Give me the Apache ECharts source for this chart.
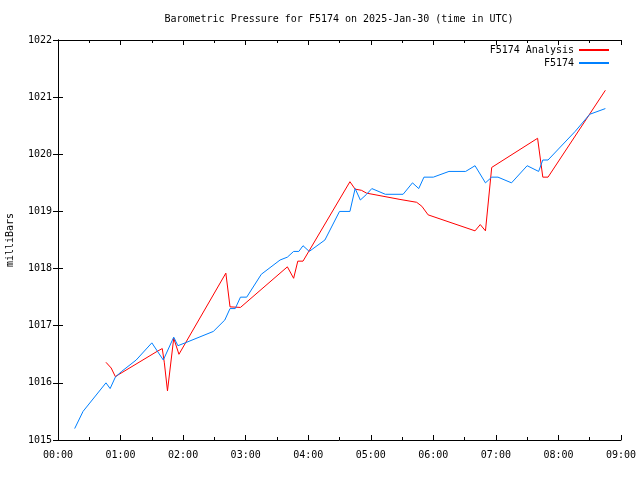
<!DOCTYPE html>
<html>
<head>
<meta charset="utf-8">
<script src="https://cdn.jsdelivr.net/npm/echarts@6/dist/echarts.min.js"></script>
<style>html,body{margin:0;padding:0;background:#fff;}#chart{width:640px;height:480px;}</style>
</head>
<body>
<div id="chart"></div>
<script>
const titleText = 'Barometric Pressure for F5174 on 2025-Jan-30 (time in UTC)';
const yAxisName = 'milliBars';
const seriesNames = ['F5174 Analysis', 'F5174'];
const xTickLabels = ['00:00','01:00','02:00','03:00','04:00','05:00','06:00','07:00','08:00','09:00'];

const analysisTimes = ['00:46','00:51','00:55','01:35','01:40','01:42','01:45','01:51','01:56','02:41','02:45','02:55','03:40','03:46','03:50','03:55','04:40','04:45','04:51','04:56','05:28','05:44','05:49','05:55','06:40','06:45','06:50','06:56','07:40','07:45','07:50','08:45'];
const analysisValues = [1016.36,1016.26,1016.11,1016.55,1016.60,1016.35,1015.86,1016.78,1016.50,1017.92,1017.33,1017.32,1018.03,1017.83,1018.13,1018.13,1019.52,1019.39,1019.37,1019.32,1019.21,1019.16,1019.09,1018.94,1018.66,1018.77,1018.66,1019.77,1020.28,1019.60,1019.60,1021.12];

const obsTimes = ['00:16','00:24','00:46','00:50','00:55','01:01','01:15','01:30','01:41','01:51','01:55','02:02','02:29','02:40','02:45','02:50','02:55','03:01','03:15','03:33','03:40','03:46','03:51','03:55','04:01','04:16','04:30','04:40','04:45','04:50','04:56','05:01','05:14','05:31','05:40','05:46','05:51','06:00','06:15','06:31','06:40','06:50','06:56','07:02','07:15','07:30','07:41','07:45','07:50','08:16','08:30','08:45'];
const obsValues = [1015.2,1015.5,1016.0,1015.9,1016.1,1016.2,1016.4,1016.7,1016.4,1016.8,1016.65,1016.7,1016.9,1017.1,1017.3,1017.3,1017.5,1017.5,1017.9,1018.15,1018.2,1018.3,1018.3,1018.4,1018.3,1018.5,1019.0,1019.0,1019.4,1019.2,1019.3,1019.4,1019.3,1019.3,1019.5,1019.4,1019.6,1019.6,1019.7,1019.7,1019.8,1019.5,1019.6,1019.6,1019.5,1019.8,1019.7,1019.9,1019.9,1020.4,1020.7,1020.8];

function toHours(s) { const p = s.split(':'); return Number(p[0]) + Number(p[1]) / 60; }
function pairs(ts, vs) { return ts.map((t, i) => [toHours(t), vs[i]]); }

const FONT = 'DejaVu Sans Mono';
const tickStyle = { show: true, inside: true, length: 5, lineStyle: { color: '#000', width: 1 } };
const minorStyle = { show: true, splitNumber: 2, length: 3, lineStyle: { color: '#000', width: 1 } };
const lineStyleAxis = { show: true, lineStyle: { color: '#000', width: 1 } };

const chart = echarts.init(document.getElementById('chart'), null, { renderer: 'canvas' });
chart.setOption({
  animation: false,
  backgroundColor: '#fff',
  textStyle: { fontFamily: FONT },
  graphic: [{
    type: 'text', x: 339, y: 19,
    style: { text: titleText, fontFamily: FONT, fontSize: 10, fill: '#000', align: 'center', verticalAlign: 'middle' }
  }],
  legend: {
    orient: 'vertical', align: 'right', right: 30, top: 45, padding: 0,
    itemWidth: 30, itemHeight: 12, itemGap: 3,
    itemStyle: { opacity: 0 },
    textStyle: { fontFamily: FONT, fontSize: 10, color: '#000' },
    data: seriesNames
  },
  grid: { left: 58, right: 19, top: 40, bottom: 40, containLabel: false, outerBoundsMode: 'none' },
  xAxis: [{
    type: 'value', min: 0, max: 9, interval: 1, position: 'bottom',
    axisLine: lineStyleAxis, axisTick: tickStyle, minorTick: minorStyle,
    splitLine: { show: false },
    axisLabel: { margin: 10, fontFamily: FONT, fontSize: 10, color: '#000', formatter: v => xTickLabels[Math.round(v)] }
  }, {
    type: 'value', min: 0, max: 9, interval: 1, position: 'top',
    axisLine: lineStyleAxis, axisTick: tickStyle, minorTick: minorStyle,
    splitLine: { show: false }, axisLabel: { show: false }
  }],
  yAxis: [{
    type: 'value', min: 1015, max: 1022, interval: 1, position: 'left',
    name: yAxisName, nameLocation: 'middle', nameGap: 43, nameRotate: 90,
    nameTextStyle: { fontFamily: FONT, fontSize: 10, color: '#000' },
    axisLine: lineStyleAxis, axisTick: tickStyle, splitLine: { show: false },
    axisLabel: { margin: 6, fontFamily: FONT, fontSize: 10, color: '#000', formatter: v => String(v) }
  }, {
    type: 'value', min: 1015, max: 1022, interval: 1, position: 'right',
    axisLine: lineStyleAxis, axisTick: tickStyle, splitLine: { show: false },
    axisLabel: { show: false }
  }],
  series: [{
    name: seriesNames[0], type: 'line', symbol: 'none', smooth: false,
    xAxisIndex: 0, yAxisIndex: 0,
    lineStyle: { color: '#ff0000', width: 1 }, itemStyle: { color: '#ff0000' },
    data: pairs(analysisTimes, analysisValues)
  }, {
    name: seriesNames[1], type: 'line', symbol: 'none', smooth: false,
    xAxisIndex: 0, yAxisIndex: 0,
    lineStyle: { color: '#0080ff', width: 1 }, itemStyle: { color: '#0080ff' },
    data: pairs(obsTimes, obsValues)
  }]
});
</script>
</body>
</html>
